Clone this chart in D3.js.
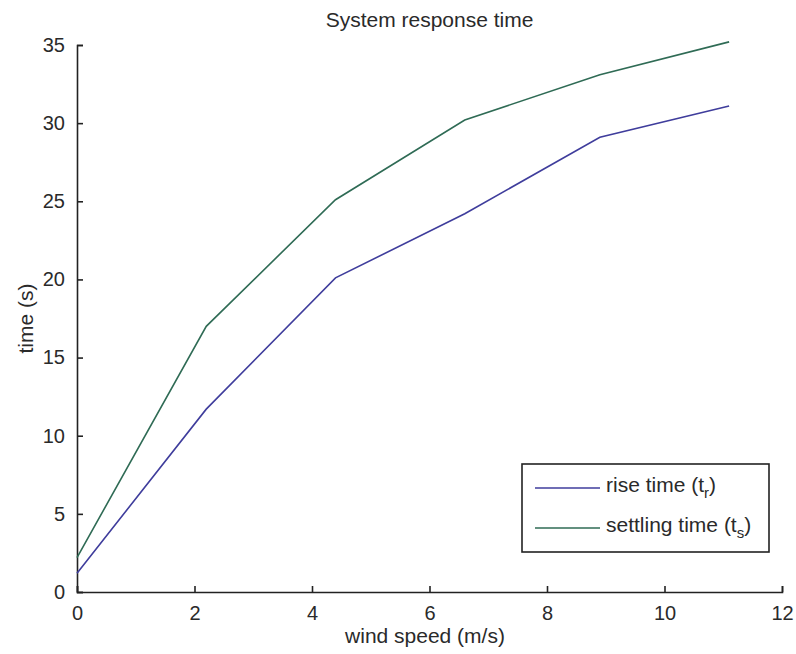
<!DOCTYPE html>
<html>
<head>
<meta charset="utf-8">
<script src="https://cdn.jsdelivr.net/npm/d3@7"></script>
<style>
  body { margin: 0; background: #fff; }
  svg text { font-family: "Liberation Sans", Arial, sans-serif; fill: #2a2a2a; }
</style>
</head>
<body>
<svg id="chart" width="796" height="654"></svg>
<script>
// wind speed (m/s)
const windSpeed = [0, 2.2, 4.4, 6.6, 8.9, 11.1];
// rise time t_r (s)
const riseTime = [1.2, 11.7, 20.1, 24.2, 29.1, 31.1];
// settling time t_s (s)
const settlingTime = [2.2, 17.0, 25.1, 30.2, 33.1, 35.2];

const xTicks = [0, 2, 4, 6, 8, 10, 12];
const yTicks = [0, 5, 10, 15, 20, 25, 30, 35];

const series = [
  { name: 'rise time (t', sub: 'r', values: riseTime, color: '#3f3d9c' },
  { name: 'settling time (t', sub: 's', values: settlingTime, color: '#2f6b55' },
];

const svg = d3.select('#chart');
const margin = { left: 77, right: 14, top: 45, bottom: 62 };
const width = 796, height = 654;

const x = d3.scaleLinear().domain([0, 12]).range([margin.left, width - margin.right]);
const y = d3.scaleLinear().domain([0, 35]).range([height - margin.bottom, margin.top]);

// Axes (ticks point inwards, matlab style)
const xAxis = svg.append('g')
  .attr('transform', `translate(0,${y(0)})`)
  .call(d3.axisBottom(x).tickValues(xTicks).tickFormat(d3.format('d')).tickSize(-6).tickPadding(14));
const yAxis = svg.append('g')
  .attr('transform', `translate(${x(0)},0)`)
  .call(d3.axisLeft(y).tickValues(yTicks).tickFormat(d3.format('d')).tickSize(-6).tickPadding(12));

[xAxis, yAxis].forEach((a) => {
  a.selectAll('.domain').attr('stroke', '#222').attr('stroke-width', 1.6);
  a.selectAll('.tick line').attr('stroke', '#222').attr('stroke-width', 1.6);
  a.selectAll('.tick text').style('font-size', '20px').attr('fill', '#2a2a2a');
});

// Lines
const line = d3.line()
  .x((d, i) => x(windSpeed[i]))
  .y((d) => y(d));

series.forEach((s) => {
  svg.append('path')
    .datum(s.values)
    .attr('fill', 'none')
    .attr('stroke', s.color)
    .attr('stroke-width', 1.6)
    .attr('d', line);
});

// Title and labels
svg.append('text')
  .attr('x', (x(0) + x(12)) / 2)
  .attr('y', 27)
  .attr('text-anchor', 'middle')
  .style('font-size', '21px')
  .text('System response time');

svg.append('text')
  .attr('x', 425)
  .attr('y', 643)
  .attr('text-anchor', 'middle')
  .style('font-size', '21px')
  .text('wind speed (m/s)');

svg.append('text')
  .attr('transform', `translate(33,${(y(0) + y(35)) / 2}) rotate(-90)`)
  .attr('text-anchor', 'middle')
  .style('font-size', '21px')
  .text('time (s)');

// Legend
const legend = svg.append('g').attr('transform', 'translate(522,464)');
legend.append('rect')
  .attr('width', 247)
  .attr('height', 88)
  .attr('fill', '#fff')
  .attr('stroke', '#222')
  .attr('stroke-width', 1.6);

series.forEach((s, i) => {
  const row = legend.append('g').attr('transform', `translate(0,${24 + i * 40})`);
  row.append('line')
    .attr('x1', 13).attr('x2', 78)
    .attr('stroke', s.color)
    .attr('stroke-width', 1.6);
  const t = row.append('text')
    .attr('x', 84)
    .attr('y', 4)
    .style('font-size', '21px');
  t.append('tspan').text(s.name);
  t.append('tspan').attr('dy', 6).style('font-size', '15px').text(s.sub);
  t.append('tspan').attr('dy', -6).text(')');
});
</script>
</body>
</html>
